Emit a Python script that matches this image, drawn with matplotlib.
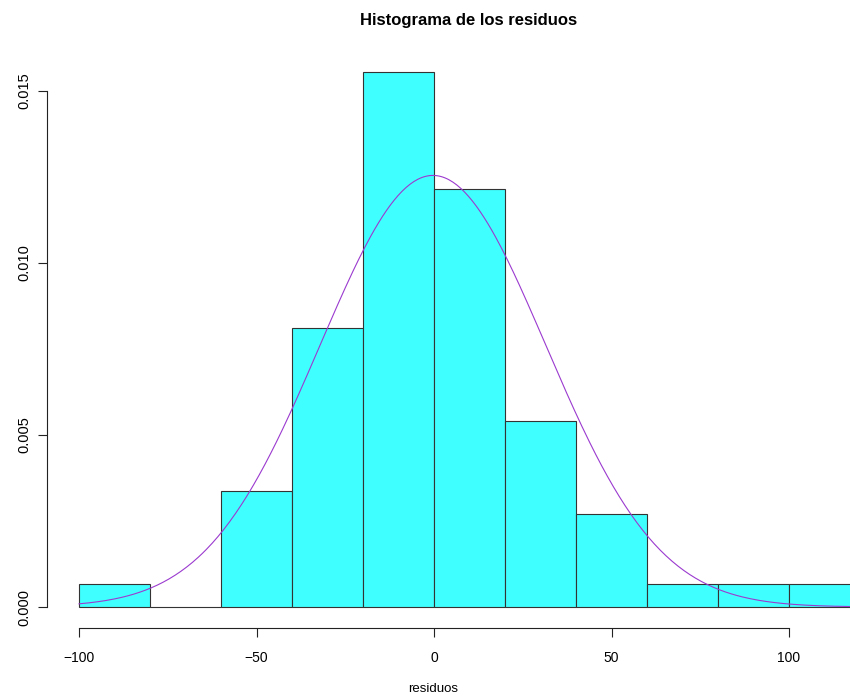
import numpy as np
import matplotlib
matplotlib.use("Agg")
import matplotlib.pyplot as plt

# histograma de residuos (estilo R)
breaks = [-100, -80, -60, -40, -20, 0, 20, 40, 60, 80, 100, 120]
counts = [1, 0, 5, 12, 23, 18, 8, 4, 1, 1, 1]
media = -0.3
desv = 31.8
xticks = [-100, -50, 0, 50, 100]
yticks = [0.000, 0.005, 0.010, 0.015]

n = sum(counts)
anchos = np.diff(breaks)
dens = np.array(counts) / (n * anchos)

W, H = 850, 696
fig = plt.figure(figsize=(W / 100, H / 100), dpi=100)
ax = fig.add_axes([47 / W, (H - 628) / H, (W - 47) / W, (628 - 51) / H])

ax.bar(breaks[:-1], dens, width=anchos, align="edge",
       color="#40FFFF", edgecolor="#333333", linewidth=0.8)

xs = np.linspace(-100, 120, 400)
ys = np.exp(-0.5 * ((xs - media) / desv) ** 2) / (desv * np.sqrt(2 * np.pi))
ax.plot(xs, ys, color="#9B3ACF", linewidth=0.8)

px = 3.55
ax.set_xlim(-100 - 32 / px, -100 + (W - 79) / px)
ax.set_ylim(-(628 - 607) / 34400, (607 - 51) / 34400)

for s in ["top", "right"]:
    ax.spines[s].set_visible(False)
ax.spines["left"].set_bounds(0, 0.015)
ax.spines["bottom"].set_bounds(-100, 100)
for s in ["left", "bottom"]:
    ax.spines[s].set_color("#222222")
    ax.spines[s].set_linewidth(0.8)

ax.set_xticks(xticks)
ax.set_xticklabels(["\u2212100", "\u221250", "0", "50", "100"])
ax.set_yticks(yticks)
ax.set_yticklabels(["0.000", "0.005", "0.010", "0.015"], rotation=90, va="center")
ax.tick_params(length=6.5, width=0.8, color="#222222", labelsize=10, pad=10)
ax.tick_params(axis="y", labelsize=10.5, pad=5)

fig.text(469 / W, 1 - 20 / H, "Histograma de los residuos", ha="center",
         va="center", fontsize=12, fontweight="bold", family="Liberation Sans")
fig.text(433 / W, 1 - 689 / H, "residuos", ha="center", va="center",
         fontsize=9.5, family="Liberation Sans")
for t in ax.get_xticklabels() + ax.get_yticklabels():
    t.set_family("Liberation Sans")

fig.savefig("out.png", dpi=100)
